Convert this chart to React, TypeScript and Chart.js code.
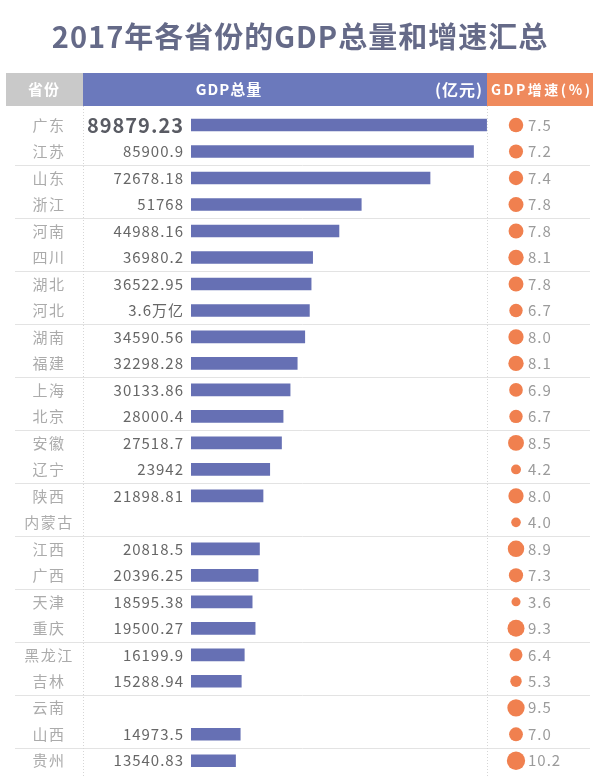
import { useEffect, useRef } from 'react';
import { Chart, registerables } from 'chart.js';

Chart.register(...registerables);

const provinces = ['广东', '江苏', '山东', '浙江', '河南', '四川', '湖北', '河北', '湖南', '福建', '上海', '北京', '安徽', '辽宁', '陕西', '内蒙古', '江西', '广西', '天津', '重庆', '黑龙江', '吉林', '云南', '山西', '贵州'];
const gdpValues: (number | null)[] = [89879.23, 85900.9, 72678.18, 51768, 44988.16, 36980.2, 36522.95, 36000, 34590.56, 32298.28, 30133.86, 28000.4, 27518.7, 23942, 21898.81, null, 20818.5, 20396.25, 18595.38, 19500.27, 16199.9, 15288.94, null, 14973.5, 13540.83];
const gdpLabels = ['89879.23', '85900.9', '72678.18', '51768', '44988.16', '36980.2', '36522.95', '3.6万亿', '34590.56', '32298.28', '30133.86', '28000.4', '27518.7', '23942', '21898.81', '', '20818.5', '20396.25', '18595.38', '19500.27', '16199.9', '15288.94', '', '14973.5', '13540.83'];
const growthRates = [7.5, 7.2, 7.4, 7.8, 7.8, 8.1, 7.8, 6.7, 8.0, 8.1, 6.9, 6.7, 8.5, 4.2, 8.0, 4.0, 8.9, 7.3, 3.6, 9.3, 6.4, 5.3, 9.5, 7.0, 10.2];
const growthLabels = growthRates.map((v) => v.toFixed(1));

const titleText = '2017年各省份的GDP总量和增速汇总';
const headerProvince = '省份';
const headerGdp = 'GDP总量';
const headerUnit = '(亿元)';
const headerGrowth = 'GDP增速(%)';

const FONT = '"Noto Sans CJK SC", "Noto Sans", sans-serif';

const tablePlugin = {
  id: 'tableDecor',
  beforeDraw(chart: any) {
    const { ctx, chartArea } = chart;
    const ys = chart.scales.y;
    ctx.save();
    const hTop = 73;
    const hBot = 106;
    const hMid = (hTop + hBot) / 2;
    ctx.fillStyle = '#c9c9c9';
    ctx.fillRect(6, hTop, 77, hBot - hTop);
    ctx.fillStyle = '#6b79bc';
    ctx.fillRect(83, hTop, chartArea.right - 83, hBot - hTop);
    ctx.fillStyle = '#ef8a5d';
    ctx.fillRect(chartArea.right, hTop, 593 - chartArea.right, hBot - hTop);

    ctx.fillStyle = '#ffffff';
    ctx.textBaseline = 'middle';
    ctx.letterSpacing = '1px';
    ctx.font = `bold 15px ${FONT}`;
    ctx.textAlign = 'center';
    ctx.fillText(headerProvince, 44, hMid);
    ctx.fillText(headerGdp, 229, hMid);
    ctx.font = `bold 16px ${FONT}`;
    ctx.textAlign = 'right';
    ctx.fillText(headerUnit, 483, hMid);
    ctx.save();
    ctx.beginPath();
    ctx.rect(chartArea.right, hTop, 593 - chartArea.right, hBot - hTop);
    ctx.clip();
    ctx.letterSpacing = '2.5px';
    ctx.font = `bold 14px ${FONT}`;
    ctx.textAlign = 'left';
    ctx.fillText(headerGrowth, chartArea.right + 4, hMid);
    ctx.restore();

    // separators between row pairs
    ctx.strokeStyle = '#e3e3e3';
    ctx.lineWidth = 1;
    for (let i = 1; i < provinces.length - 1; i += 2) {
      const yy = Math.round((ys.getPixelForValue(i) + ys.getPixelForValue(i + 1)) / 2) + 0.5;
      ctx.beginPath();
      ctx.moveTo(15, yy);
      ctx.lineTo(590, yy);
      ctx.stroke();
    }
    // dotted verticals
    ctx.strokeStyle = '#d6d6d6';
    ctx.setLineDash([1, 2]);
    [83.5, chartArea.right + 0.5].forEach((x) => {
      ctx.beginPath();
      ctx.moveTo(x, hBot);
      ctx.lineTo(x, chart.height);
      ctx.stroke();
    });
    ctx.restore();
    ctx.letterSpacing = '1px';
  },
  afterDraw(chart: any) {
    const { ctx, chartArea } = chart;
    const ys = chart.scales.y;
    ctx.save();
    ctx.letterSpacing = '1.5px';
    ctx.font = `15px ${FONT}`;
    ctx.fillStyle = '#ababab';
    ctx.textAlign = 'center';
    ctx.textBaseline = 'middle';
    provinces.forEach((p, i) => {
      ctx.fillText(p, 49, ys.getPixelForValue(i));
    });
    ctx.fillStyle = '#f0804f';
    growthRates.forEach((v, i) => {
      const r = 2 + v * 0.7;
      ctx.beginPath();
      ctx.arc(chartArea.right + 29, ys.getPixelForValue(i), r, 0, Math.PI * 2);
      ctx.fill();
    });
    ctx.restore();
  },
};

export default function App() {
  const canvasRef = useRef<HTMLCanvasElement | null>(null);

  useEffect(() => {
    const canvas = canvasRef.current;
    if (!canvas) return;
    const chart = new Chart(canvas, {
      type: 'bar',
      data: {
        labels: provinces,
        datasets: [
          {
            label: 'GDP总量',
            data: gdpValues,
            backgroundColor: '#6670b4',
            barThickness: 12,
            yAxisID: 'y',
            xAxisID: 'x',
          },
        ],
      },
      options: {
        indexAxis: 'y',
        animation: false,
        responsive: false,
        maintainAspectRatio: false,
        devicePixelRatio: 1,
        layout: { padding: { left: 0, right: 0, top: 0, bottom: 2 } },
        plugins: {
          legend: { display: false },
          tooltip: { enabled: false },
          title: {
            display: true,
            text: titleText,
            color: '#656a88',
            font: { family: FONT, size: 29, weight: 'bold', lineHeight: 1.2 },
            padding: { top: 20, bottom: 57 },
          },
        },
        scales: {
          x: {
            type: 'linear',
            display: false,
            min: 0,
            max: 90000,
          },
          y: {
            type: 'category',
            position: 'left',
            offset: true,
            grid: { display: false, drawTicks: false },
            border: { display: false },
            ticks: {
              autoSkip: false,
              padding: 7,
              callback: (_v: any, i: number) => gdpLabels[i],
              font: (c: any) =>
                c.index === 0
                  ? { family: FONT, size: 20, weight: 'bold' }
                  : { family: FONT, size: 15 },
              color: (c: any) => (c.index === 0 ? '#595b63' : '#676767'),
            },
            afterFit: (s: any) => {
              s.width = 191;
              s.paddingTop = 0;
              s.paddingBottom = 0;
            },
          },
          yR: {
            type: 'category',
            position: 'right',
            labels: growthLabels,
            offset: true,
            grid: { display: false, drawTicks: false },
            border: { display: false },
            ticks: {
              autoSkip: false,
              padding: 41,
              color: '#9b9b9b',
              font: { family: FONT, size: 15 },
            },
            afterFit: (s: any) => {
              s.width = 113;
              s.paddingTop = 0;
              s.paddingBottom = 0;
            },
          },
        },
      } as any,
      plugins: [tablePlugin],
    });
    return () => chart.destroy();
  }, []);

  return (
    <div style={{ position: 'absolute', left: 0, top: 0, width: 600, height: 776, background: '#ffffff' }}>
      <canvas ref={canvasRef} width={600} height={776} style={{ display: 'block' }} />
    </div>
  );
}
